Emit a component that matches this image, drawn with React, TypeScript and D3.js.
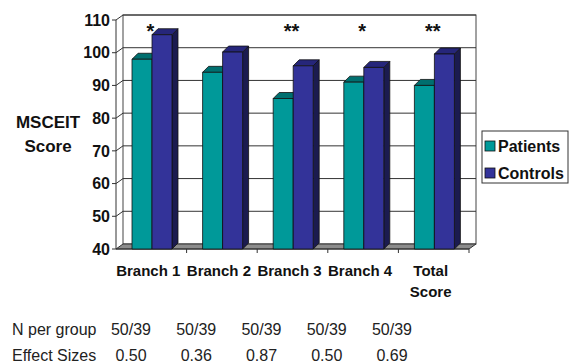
import React from "react";
import * as d3 from "d3";

const categories = ["Branch 1", "Branch 2", "Branch 3", "Branch 4", "Total Score"];
const seriesNames = ["Patients", "Controls"];
const patients = [98, 94, 86, 91, 90];
const controls = [105.5, 100.2, 96, 95.5, 99.6];
const significance = ["*", "", "**", "*", "**"];
const nPerGroup = ["50/39", "50/39", "50/39", "50/39", "50/39"];
const effectSizes = ["0.50", "0.36", "0.87", "0.50", "0.69"];
const yTicks = [40, 50, 60, 70, 80, 90, 100, 110];

const FONT = "'Liberation Sans', Arial, Helvetica, sans-serif";

const colors = {
  Patients: { front: "#009999", top: "#006f6f", side: "#004f4f" },
  Controls: { front: "#333399", top: "#26267a", side: "#1b1b4f" },
};

export default function App() {
  const W = 577, H = 364;
  const x0 = 116, x1 = 469;
  const wallDx = 7, wallDy = -5;
  const barDx = 6, barDy = -6;

  const y = d3.scaleLinear().domain([40, 110]).range([249, 20]);
  const x = d3.scaleBand<string>().domain(categories).range([x0, x1]).padding(0);
  const xs = d3.scaleBand<string>().domain(seriesNames).range([16, 56]).padding(0);
  const tableX = d3.scalePoint<string>().domain(categories).range([131, 392]);

  const yB = (v: number) => y(v) + wallDy;
  const xB = (v: number) => v + wallDx;

  const data = [patients, controls];

  const bar = (cat: string, ci: number, si: number) => {
    const name = seriesNames[si] as "Patients" | "Controls";
    const c = colors[name];
    const v = data[si][ci];
    const bx = (x(cat) as number) + (xs(name) as number);
    const bw = xs.bandwidth();
    const top = y(v);
    const bot = y(40);
    const front = `M${bx},${top}L${bx + bw},${top}L${bx + bw},${bot}L${bx},${bot}Z`;
    const side = `M${bx + bw},${top}L${bx + bw + barDx},${top + barDy}L${bx + bw + barDx},${bot + barDy}L${bx + bw},${bot}Z`;
    const topF = `M${bx},${top}L${bx + barDx},${top + barDy}L${bx + bw + barDx},${top + barDy}L${bx + bw},${top}Z`;
    return (
      <g key={`${cat}-${name}`}>
        <path d={side} fill={c.side} stroke="#111" strokeWidth={0.8} strokeLinejoin="round" />
        <path d={topF} fill={c.top} stroke="#111" strokeWidth={0.8} strokeLinejoin="round" />
        <path d={front} fill={c.front} stroke="#111" strokeWidth={0.8} />
      </g>
    );
  };

  return (
    <svg width={W} height={H} style={{ position: "absolute", left: 0, top: 0, background: "#fff" }} fontFamily={FONT}>
      <rect width={W} height={H} fill="#fff" />
      {/* back wall */}
      <rect x={xB(x0)} y={yB(110)} width={x1 - x0} height={yB(40) - yB(110)} fill="#fff" stroke="#444" strokeWidth={1} />
      {/* gridlines */}
      {yTicks.filter((t) => t > 40).map((t) => (
        <g key={t}>
          <line x1={xB(x0)} x2={xB(x1)} y1={yB(t)} y2={yB(t)} stroke="#333" strokeWidth={1} />
          <line x1={x0} x2={xB(x0)} y1={y(t)} y2={yB(t)} stroke="#333" strokeWidth={1} />
        </g>
      ))}
      {/* floor */}
      <path d={`M${x0},${y(40)}L${x1},${y(40)}L${xB(x1)},${yB(40)}L${xB(x0)},${yB(40)}Z`} fill="#8c8c8c" stroke="#333" strokeWidth={1} />
      {/* front y axis */}
      <line x1={x0} x2={x0} y1={y(110)} y2={y(40)} stroke="#333" strokeWidth={1} />
      {yTicks.map((t) => (
        <g key={`t${t}`}>
          <line x1={x0 - 4} x2={x0} y1={y(t)} y2={y(t)} stroke="#333" />
          <text x={x0 - 6} y={y(t)} dy="0.36em" textAnchor="end" fontSize={16} fontWeight="bold" fill="#111">{t}</text>
        </g>
      ))}
      {/* x axis */}
      <line x1={x0} x2={x1} y1={y(40)} y2={y(40)} stroke="#333" />
      {categories.map((c) => (
        <line key={`xt${c}`} x1={(x(c) as number) + x.bandwidth()} x2={(x(c) as number) + x.bandwidth()} y1={y(40)} y2={y(40) + 4} stroke="#333" />
      ))}
      {/* bars */}
      {categories.map((c, ci) => (
        <g key={c}>
          {bar(c, ci, 0)}
          {bar(c, ci, 1)}
        </g>
      ))}
      {/* significance */}
      {categories.map((c, ci) => (
        <text key={`s${c}`} x={(x(c) as number) + x.bandwidth() / 2 - 1} y={37.5} textAnchor="middle" fontSize={20} fontWeight="bold" fill="#111">{significance[ci]}</text>
      ))}
      {/* category labels */}
      {categories.map((c) => {
        const cx = (x(c) as number) + x.bandwidth() / 2 - 3;
        const parts = c === "Total Score" ? ["Total", "Score"] : [c];
        return (
          <text key={`cl${c}`} x={cx} y={276} textAnchor="middle" fontSize={15} fontWeight="bold" fill="#111">
            {parts.map((p, i) => (
              <tspan key={p} x={cx} dy={i === 0 ? 0 : 21}>{p}</tspan>
            ))}
          </text>
        );
      })}
      {/* y title */}
      <text x={48} y={122} dy="0.36em" textAnchor="middle" fontSize={17} fontWeight="bold" fill="#111">MSCEIT</text>
      <text x={48} y={146} dy="0.36em" textAnchor="middle" fontSize={17} fontWeight="bold" fill="#111">Score</text>
      {/* legend */}
      <rect x={482} y={131} width={86} height={52} fill="#fff" stroke="#333" strokeWidth={1} />
      {seriesNames.map((s, i) => (
        <g key={`lg${s}`}>
          <rect x={485} y={141 + i * 27} width={10} height={10} fill={colors[s as "Patients" | "Controls"].front} stroke="#111" strokeWidth={0.8} />
          <text x={498} y={146 + i * 27} dy="0.36em" fontSize={16} fontWeight="bold" fill="#111">{s}</text>
        </g>
      ))}
      {/* table */}
      <text x={12} y={329} dy="0.36em" fontSize={16} fill="#222">N per group</text>
      <text x={12} y={355} dy="0.36em" fontSize={16} fill="#222">Effect Sizes</text>
      {categories.map((c, ci) => (
        <g key={`tb${c}`}>
          <text x={tableX(c)} y={329} dy="0.36em" textAnchor="middle" fontSize={16} fill="#222">{nPerGroup[ci]}</text>
          <text x={tableX(c)} y={355} dy="0.36em" textAnchor="middle" fontSize={16} fill="#222">{effectSizes[ci]}</text>
        </g>
      ))}
    </svg>
  );
}
